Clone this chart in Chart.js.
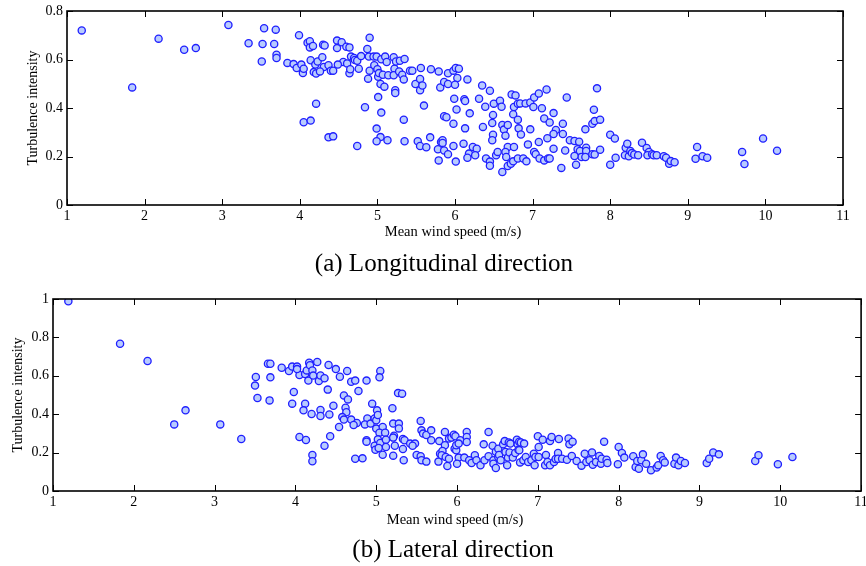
<!DOCTYPE html>
<html>
<head>
<meta charset="utf-8">
<script src="https://cdn.jsdelivr.net/npm/chart.js@4.4.1/dist/chart.umd.min.js"></script>
<style>
  html, body { margin: 0; padding: 0; background: #ffffff; }
  #page { position: relative; width: 866px; height: 566px; overflow: hidden; background: #fff; }
  canvas { position: absolute; left: 0; }
  .label {
    position: absolute; white-space: nowrap; color: #000;
    font-family: "Liberation Serif", "Times New Roman", serif;
    transform: translateX(-50%);
  }
  .caption { font-size: 25px; line-height: 30px; }
  .xtitle { font-size: 14.5px; line-height: 16px; }
</style>
</head>
<body>
<div id="page">
  <canvas id="longitudinal" width="866" height="240" style="top:0px"></canvas>
  <canvas id="lateral" width="866" height="250" style="top:280px"></canvas>
  <div class="label xtitle" style="top:223px; left:453px;">Mean wind speed (m/s)</div>
  <div class="label caption" style="top:248px; left:444px;">(a) Longitudinal direction</div>
  <div class="label xtitle" style="top:511px; left:455px;">Mean wind speed (m/s)</div>
  <div class="label caption" style="top:534px; left:453px;">(b) Lateral direction</div>
</div>
<script>
// Mean wind speed (m/s) and longitudinal turbulence intensity
const speedA = [
  1.19,1.84,2.18,2.51,2.66,3.08,3.34,3.54,3.52,3.51,3.69,3.67,3.70,3.70,3.84,3.92,3.96,3.99,4.02,4.04,
  4.05,4.10,4.13,4.13,4.17,4.14,4.18,4.21,4.20,4.23,4.21,4.05,4.14,4.29,4.30,4.32,4.31,4.26,4.37,4.40,
  4.43,4.37,4.43,4.48,4.48,4.54,4.56,4.49,4.60,4.64,4.61,4.64,4.65,4.66,4.70,4.71,4.74,4.76,4.79,4.74,
  4.84,4.87,4.90,4.89,4.88,4.90,4.95,4.96,4.99,5.00,5.01,5.02,5.05,5.04,5.09,5.10,5.12,5.07,5.14,5.01,
  5.05,4.99,5.04,4.99,5.13,5.21,5.22,5.24,5.29,5.21,5.28,5.32,5.34,5.35,5.23,5.23,5.34,5.35,5.42,5.45,
  5.49,5.55,5.55,5.58,5.56,5.60,5.52,5.55,5.63,5.68,5.69,5.79,5.81,5.78,5.79,5.82,
  5.91,5.98,6.01,6.05,6.03,5.86,5.91,6.00,6.16,5.99,6.12,6.13,6.02,5.86,5.89,5.98,6.19,6.13,5.84,5.84,
  5.98,5.86,5.91,6.01,6.11,6.23,6.28,6.18,6.16,6.26,6.35,6.45,6.31,6.50,6.39,6.58,6.60,6.49,6.48,6.36,
  6.49,6.48,6.40,6.45,6.45,6.53,6.55,6.61,6.63,6.68,6.65,6.68,6.65,6.76,6.66,6.68,6.72,6.75,6.61,6.81,
  6.88,6.92,6.73,6.78,6.76,6.81,6.84,6.75,6.81,6.82,6.85,6.91,6.97,7.01,7.02,7.08,7.12,7.18,6.97,7.15,
  7.22,7.27,7.30,7.27,7.19,7.08,6.94,7.27,7.02,7.04,7.09,7.15,7.20,7.22,7.37,7.44,7.39,7.39,7.42,7.48,
  7.54,7.60,7.58,7.68,7.61,7.69,7.69,7.63,7.54,7.68,7.56,7.77,7.80,7.87,7.79,7.83,7.77,7.80,7.87,8.00,
  8.06,8.00,8.07,8.20,8.22,8.19,8.24,8.26,8.28,8.31,8.36,8.41,8.47,8.50,8.48,8.54,8.56,8.60,8.69,8.72,
  8.76,8.78,8.83,9.10,9.12,9.19,9.25,9.70,9.73,9.97,10.15
];
const intensityA = [
  0.720,0.485,0.686,0.640,0.647,0.742,0.667,0.729,0.664,0.592,0.723,0.664,0.620,0.606,0.586,0.581,0.565,0.700,0.579,0.544,
  0.562,0.669,0.675,0.650,0.656,0.597,0.548,0.542,0.579,0.592,0.418,0.341,0.348,0.609,0.661,0.658,0.569,0.551,0.576,0.554,
  0.554,0.279,0.283,0.678,0.647,0.671,0.590,0.579,0.653,0.650,0.584,0.543,0.560,0.612,0.606,0.598,0.595,0.562,0.614,0.243,
  0.403,0.643,0.690,0.612,0.521,0.554,0.612,0.576,0.612,0.560,0.529,0.544,0.601,0.499,0.488,0.612,0.590,0.537,0.535,0.445,
  0.381,0.315,0.280,0.263,0.267,0.609,0.562,0.592,0.595,0.535,0.551,0.537,0.518,0.602,0.473,0.462,0.352,0.263,0.554,0.554,
  0.499,0.520,0.473,0.493,0.565,0.410,0.263,0.243,0.238,0.279,0.560,0.551,0.485,0.230,0.184,0.260,
  0.543,0.554,0.565,0.562,0.524,0.507,0.499,0.496,0.518,0.438,0.436,0.429,0.394,0.366,0.362,0.335,0.378,0.316,0.267,0.256,
  0.243,0.225,0.209,0.179,0.253,0.239,0.232,0.212,0.195,0.205,0.493,0.471,0.438,0.418,0.405,0.430,0.405,0.371,0.338,0.322,
  0.290,0.267,0.192,0.179,0.162,0.205,0.219,0.330,0.311,0.330,0.286,0.239,0.219,0.239,0.198,0.161,0.170,0.180,0.136,0.192,
  0.192,0.180,0.456,0.452,0.404,0.418,0.419,0.374,0.352,0.316,0.291,0.419,0.423,0.404,0.443,0.460,0.399,0.476,0.312,0.357,
  0.340,0.379,0.309,0.293,0.275,0.260,0.250,0.232,0.219,0.209,0.192,0.184,0.192,0.192,0.153,0.443,0.335,0.293,0.225,0.267,
  0.264,0.261,0.230,0.312,0.223,0.236,0.223,0.198,0.202,0.198,0.166,0.335,0.346,0.352,0.393,0.481,0.209,0.208,0.228,0.290,
  0.274,0.166,0.195,0.236,0.253,0.205,0.201,0.223,0.214,0.208,0.205,0.257,0.235,0.219,0.205,0.209,0.205,0.205,0.201,0.195,
  0.170,0.181,0.176,0.191,0.239,0.201,0.195,0.219,0.169,0.274,0.224
];

// Mean wind speed (m/s) and lateral turbulence intensity
const speedB = [
  1.19,1.83,2.17,2.50,2.64,3.07,3.33,3.51,3.50,3.53,3.66,3.69,3.69,3.68,3.83,3.92,3.96,4.02,3.98,3.96,
  4.05,4.02,4.12,4.14,4.17,4.18,4.16,4.21,4.22,4.27,4.29,4.31,4.36,4.40,4.41,4.50,4.55,4.64,4.69,4.74,
  4.88,4.78,4.60,4.65,4.62,4.63,4.47,4.12,4.10,4.31,4.20,4.31,4.42,4.58,4.60,4.69,4.76,4.72,4.54,4.05,
  4.13,4.43,4.36,4.21,4.21,4.74,4.83,4.95,5.05,5.04,5.01,4.89,4.86,4.93,4.98,5.00,5.02,5.00,5.08,5.04,
  5.11,5.02,4.88,4.88,4.98,4.99,5.05,5.12,5.12,5.08,5.03,5.20,5.27,5.32,5.21,5.28,5.28,5.22,5.21,5.23,
  5.21,5.33,5.35,5.33,5.34,5.42,5.48,5.45,5.50,5.55,5.56,5.62,5.55,5.56,5.58,5.62,5.68,5.68,5.78,5.77,
  5.79,
  5.85,5.90,5.93,5.85,5.82,5.81,5.86,5.90,5.88,5.96,5.98,5.97,5.99,5.99,6.04,6.02,6.02,6.00,6.12,6.12,
  6.12,6.09,6.15,6.18,6.22,6.24,6.29,6.33,6.34,6.39,6.39,6.44,6.45,6.45,6.48,6.48,6.51,6.51,6.52,6.54,
  6.57,6.59,6.60,6.62,6.63,6.64,6.65,6.66,6.69,6.72,6.74,6.75,6.76,6.77,6.77,6.78,6.79,6.82,6.83,6.85,
  6.88,6.92,6.95,6.96,6.97,7.00,7.01,7.01,7.06,7.09,7.10,7.12,7.15,7.15,7.17,7.20,7.22,7.25,7.25,7.26,
  7.30,7.36,7.38,7.39,7.42,7.43,7.48,7.54,7.58,7.60,7.64,7.67,7.68,7.72,7.76,7.78,7.79,7.82,7.85,7.86,
  7.99,8.00,8.04,8.07,8.18,8.21,8.23,8.25,8.28,8.30,8.34,8.40,8.47,8.49,8.52,8.55,8.57,8.69,8.71,8.74,
  8.77,8.82,9.09,9.12,9.17,9.24,9.69,9.73,9.97,10.15
];
const intensityB = [
  0.988,0.767,0.677,0.347,0.420,0.347,0.271,0.594,0.549,0.484,0.663,0.663,0.592,0.472,0.642,0.625,0.648,0.648,0.516,0.455,
  0.604,0.635,0.609,0.628,0.668,0.655,0.575,0.628,0.601,0.672,0.573,0.602,0.587,0.528,0.656,0.635,0.595,0.625,0.569,0.575,
  0.575,0.521,0.498,0.477,0.434,0.410,0.444,0.455,0.420,0.422,0.401,0.391,0.399,0.385,0.372,0.372,0.354,0.344,0.333,0.281,
  0.266,0.285,0.236,0.188,0.155,0.168,0.170,0.455,0.625,0.592,0.420,0.378,0.347,0.351,0.378,0.368,0.396,0.325,0.333,0.304,
  0.304,0.269,0.264,0.257,0.236,0.215,0.250,0.267,0.229,0.189,0.224,0.431,0.510,0.507,0.351,0.351,0.326,0.288,0.278,0.236,
  0.184,0.271,0.264,0.219,0.160,0.247,0.247,0.236,0.188,0.181,0.160,0.153,0.365,0.316,0.299,0.292,0.316,0.264,0.260,0.153,
  0.194,
  0.307,0.273,0.278,0.238,0.208,0.186,0.177,0.168,0.130,0.293,0.285,0.220,0.212,0.238,0.264,0.247,0.174,0.142,0.307,0.281,
  0.255,0.174,0.160,0.146,0.186,0.160,0.134,0.243,0.160,0.307,0.181,0.236,0.160,0.142,0.120,0.205,0.220,0.177,0.188,0.160,
  0.243,0.260,0.203,0.134,0.174,0.253,0.201,0.247,0.174,0.198,0.267,0.243,0.215,0.212,0.257,0.149,0.253,0.160,0.247,0.177,
  0.151,0.160,0.194,0.134,0.177,0.285,0.229,0.177,0.267,0.134,0.188,0.151,0.134,0.260,0.281,0.151,0.167,0.198,0.168,0.271,
  0.168,0.163,0.274,0.243,0.182,0.257,0.156,0.132,0.194,0.151,0.160,0.201,0.137,0.151,0.182,0.142,0.168,0.257,0.163,0.146,
  0.139,0.229,0.198,0.174,0.181,0.125,0.156,0.116,0.160,0.191,0.142,0.108,0.122,0.134,0.182,0.160,0.149,0.142,0.174,0.134,
  0.156,0.146,0.146,0.168,0.201,0.191,0.156,0.186,0.139,0.177
];

const speedTicks = [1, 2, 3, 4, 5, 6, 7, 8, 9, 10, 11];
const intensityTicksA = [0, 0.2, 0.4, 0.6, 0.8];
const intensityTicksB = [0, 0.2, 0.4, 0.6, 0.8, 1];

const SERIF = '"Liberation Serif", "Times New Roman", serif';

// Boxed axes with inward tick marks on all four sides
const boxFrame = {
  id: 'boxFrame',
  afterDraw(chart, args, opts) {
    const { ctx, chartArea: a, scales } = chart;
    const xs = scales.x, ys = scales.y;
    ctx.save();
    ctx.strokeStyle = '#000';
    ctx.lineWidth = 1;
    const len = opts.len || 6;
    ctx.beginPath();
    xs.ticks.forEach(t => {
      const px = Math.round(xs.getPixelForValue(t.value)) + 0.5;
      ctx.moveTo(px, a.bottom); ctx.lineTo(px, a.bottom - len);
      ctx.moveTo(px, a.top); ctx.lineTo(px, a.top + len);
    });
    ys.ticks.forEach(t => {
      const py = Math.round(ys.getPixelForValue(t.value)) + 0.5;
      ctx.moveTo(a.left, py); ctx.lineTo(a.left + len, py);
      ctx.moveTo(a.right, py); ctx.lineTo(a.right - len, py);
    });
    ctx.stroke();
    ctx.lineWidth = 1.6;
    ctx.strokeRect(a.left, a.top, a.right - a.left, a.bottom - a.top);
    ctx.restore();
  }
};

const plainNumber = v => String(Number(v.toFixed(2)));

function makeChart(id, xs, ys, yTicks, yMax, dims) {
  const pts = xs.map((v, i) => ({ x: v, y: ys[i] }));
  return new Chart(document.getElementById(id), {
    type: 'scatter',
    data: {
      datasets: [{
        data: pts,
        pointRadius: 3.6,
        pointHoverRadius: 3.6,
        pointBorderWidth: 1.3,
        borderColor: '#1f1fff',
        backgroundColor: '#b8cbff'
      }]
    },
    options: {
      responsive: false,
      animation: false,
      devicePixelRatio: 1,
      events: [],
      layout: { padding: { top: dims.top, right: dims.right, left: 0, bottom: 0 } },
      plugins: { legend: { display: false }, tooltip: { enabled: false }, boxFrame: { len: 6 } },
      scales: {
        x: {
          type: 'linear', min: 1, max: 11,
          afterBuildTicks: s => { s.ticks = speedTicks.map(v => ({ value: v })); },
          afterFit: s => { s.height = dims.xh; s.paddingLeft = 0; s.paddingRight = 0; },
          grid: { display: false, drawTicks: false },
          border: { display: false },
          ticks: { padding: dims.xpad, color: '#000', maxRotation: 0, autoSkip: false,
                   callback: plainNumber, font: { family: SERIF, size: 14 } },
          title: { display: false }
        },
        y: {
          type: 'linear', min: 0, max: yMax,
          afterBuildTicks: s => { s.ticks = yTicks.map(v => ({ value: v })); },
          afterFit: s => { s.width = dims.yw; s.paddingTop = 0; s.paddingBottom = 0; },
          grid: { display: false, drawTicks: false },
          border: { display: false },
          ticks: { padding: 4, color: '#000', autoSkip: false,
                   callback: plainNumber, font: { family: SERIF, size: 14 } },
          title: { display: true, text: 'Turbulence intensity', color: '#000',
                   font: { family: SERIF, size: 14 }, padding: { top: dims.ytpad, bottom: 0 } }
        }
      }
    },
    plugins: [boxFrame]
  });
}

makeChart('longitudinal', speedA, intensityA, intensityTicksA, 0.8,
  { top: 11, right: 23, xh: 35, yw: 67, xpad: 3, ytpad: 25 });
makeChart('lateral', speedB, intensityB, intensityTicksB, 1,
  { top: 19, right: 4, xh: 39, yw: 53, xpad: 3, ytpad: 10 });
</script>
</body>
</html>
